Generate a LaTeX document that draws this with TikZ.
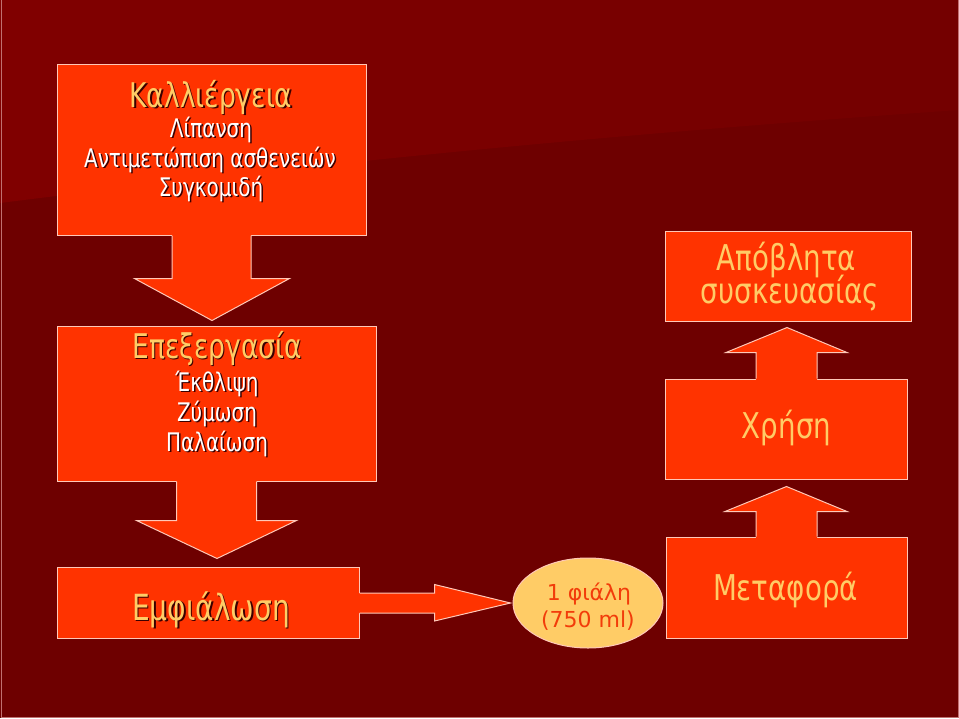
\documentclass[tikz,border=0pt]{standalone}
\usepackage{fontspec}
\setmainfont{DejaVu Sans}[FakeStretch=0.78]
\newfontfamily\ovalfont{DejaVu Sans}
\usetikzlibrary{calc,shapes.geometric}
\definecolor{bgdark}{HTML}{6E0000}
\definecolor{bglight}{HTML}{800000}
\definecolor{bgmid}{HTML}{740000}
\definecolor{boxfill}{HTML}{FF3300}
\definecolor{edgec}{HTML}{FFC8B8}
\definecolor{titlec}{HTML}{FFCC66}
\definecolor{shadowc}{HTML}{3A0000}
\definecolor{ovaltext}{HTML}{F23C0A}
\definecolor{framec}{HTML}{C07070}
\tikzset{
  box/.style={draw=edgec, line width=1pt, fill=boxfill, inner sep=0pt},
  oval/.style={ellipse, draw=edgec, line width=1pt, fill=titlec, inner sep=0pt},
  arrowfill/.style={fill=boxfill},
  arrowedge/.style={draw=edgec, line width=1pt, line join=miter},
  bigtxt/.style={font=\fontsize{34}{40}\selectfont, text=titlec, inner sep=0pt},
  bottletxt/.style={font=\fontsize{36}{42}\selectfont, text=titlec, inner sep=0pt},
  righttxt/.style={font=\fontsize{35.5}{42}\selectfont, text=titlec, inner sep=0pt},
  subtxt/.style={font=\fontsize{25.6}{30}\selectfont, text=white, inner sep=0pt},
  ovaltxt/.style={font=\ovalfont\fontsize{22}{26}\selectfont, text=ovaltext, inner sep=0pt}
}
\newcommand\shtext[4]{%
  \node[#3, text=shadowc, anchor=base] (#1-sh) at ($#2+(1.5,1.5)$) {#4};
  \node[#3, anchor=base] (#1) at #2 {#4};}
\begin{document}
\begin{tikzpicture}[x=1pt,y=-1pt]
\useasboundingbox (0,0) rectangle (959,718);
% background
\fill[bgdark] (0,0) rectangle (959,718);
\shade[left color=bglight, right color=bgmid] (0,0) -- (959,0) -- (959,110)
  .. controls (600,135) and (300,165) .. (0,203) -- cycle;
\draw[framec, line width=1pt] (1,0) -- (1,717) -- (958,717) -- (958,0);

% boxes
\node[box, minimum width=309pt, minimum height=171pt] (b1) at (211.5,149.5) {};
\node[box, minimum width=319pt, minimum height=155pt] (b2) at (216.5,403.5) {};
\node[box, minimum width=302pt, minimum height=71pt] (b3) at (208,602.5) {};
\node[oval, minimum width=150pt, minimum height=90pt] (ov) at (588,603) {};
\node[box, minimum width=241pt, minimum height=101pt] (b6) at (786.5,587.5) {};
\node[box, minimum width=242pt, minimum height=100pt] (b5) at (786,429) {};
\node[box, minimum width=246pt, minimum height=90pt] (b4) at (788,276) {};

% block arrow b1 -> b2
\fill[arrowfill] ($(b1.south)+(-39.5,-1.5)$) -- ($(b1.south)+(-39.5,43)$) -- ($(b1.south)+(-77,43)$)
  -- ($(b1.south)+(0.5,85)$) -- ($(b1.south)+(78,43)$) -- ($(b1.south)+(39.5,43)$) -- ($(b1.south)+(39.5,-1.5)$) -- cycle;
\draw[arrowedge] ($(b1.south)+(-39.5,0)$) -- ($(b1.south)+(-39.5,43)$) -- ($(b1.south)+(-77,43)$)
  -- ($(b1.south)+(0.5,85)$) -- ($(b1.south)+(78,43)$) -- ($(b1.south)+(39.5,43)$) -- ($(b1.south)+(39.5,0)$);
% block arrow b2 -> b3
\fill[arrowfill] ($(b2.south)+(-40,-1.5)$) -- ($(b2.south)+(-40,39)$) -- ($(b2.south)+(-80,39)$)
  -- ($(b2.south)+(0.5,77)$) -- ($(b2.south)+(80,39)$) -- ($(b2.south)+(40,39)$) -- ($(b2.south)+(40,-1.5)$) -- cycle;
\draw[arrowedge] ($(b2.south)+(-40,0)$) -- ($(b2.south)+(-40,39)$) -- ($(b2.south)+(-80,39)$)
  -- ($(b2.south)+(0.5,77)$) -- ($(b2.south)+(80,39)$) -- ($(b2.south)+(40,39)$) -- ($(b2.south)+(40,0)$);
% block arrow b3 -> oval
\fill[arrowfill] ($(b3.east)+(-1.5,-9.5)$) -- ($(b3.east)+(75,-9.5)$) -- ($(b3.east)+(75,-18)$)
  -- ($(ov.west)+(-2,0)$) -- ($(b3.east)+(75,18.5)$) -- ($(b3.east)+(75,10.5)$) -- ($(b3.east)+(-1.5,10.5)$) -- cycle;
\draw[arrowedge] ($(b3.east)+(0,-9.5)$) -- ($(b3.east)+(75,-9.5)$) -- ($(b3.east)+(75,-18)$)
  -- ($(ov.west)+(-2,0)$) -- ($(b3.east)+(75,18.5)$) -- ($(b3.east)+(75,10.5)$) -- ($(b3.east)+(0,10.5)$);
% block arrow b6 -> b5
\fill[arrowfill] ($(b6.north)+(-30.5,1.5)$) -- ($(b6.north)+(-30.5,-25)$) -- ($(b6.north)+(-61.5,-25)$)
  -- ($(b6.north)+(0,-50)$) -- ($(b6.north)+(60.5,-25)$) -- ($(b6.north)+(30.5,-25)$) -- ($(b6.north)+(30.5,1.5)$) -- cycle;
\draw[arrowedge] ($(b6.north)+(-30.5,0)$) -- ($(b6.north)+(-30.5,-25)$) -- ($(b6.north)+(-61.5,-25)$)
  -- ($(b6.north)+(0,-50)$) -- ($(b6.north)+(60.5,-25)$) -- ($(b6.north)+(30.5,-25)$) -- ($(b6.north)+(30.5,0)$);
% block arrow b5 -> b4
\fill[arrowfill] ($(b5.north)+(-30,1.5)$) -- ($(b5.north)+(-30,-26)$) -- ($(b5.north)+(-60,-26)$)
  -- ($(b5.north)+(1,-51)$) -- ($(b5.north)+(61,-26)$) -- ($(b5.north)+(31,-26)$) -- ($(b5.north)+(31,1.5)$) -- cycle;
\draw[arrowedge] ($(b5.north)+(-30,0)$) -- ($(b5.north)+(-30,-26)$) -- ($(b5.north)+(-60,-26)$)
  -- ($(b5.north)+(1,-51)$) -- ($(b5.north)+(61,-26)$) -- ($(b5.north)+(31,-26)$) -- ($(b5.north)+(31,0)$);

% texts box 1
\shtext{t11}{(211,107)}{bigtxt}{Καλλιέργεια}
\shtext{t12}{(211,137)}{subtxt}{Λίπανση}
\shtext{t13}{(210,167)}{subtxt}{Αντιμετώπιση ασθενειών}
\shtext{t14}{(211,196)}{subtxt}{Συγκομιδή}
% texts box 2
\shtext{t21}{(217,358)}{bigtxt}{Επεξεργασία}
\shtext{t22}{(217,391)}{subtxt}{Έκθλιψη}
\shtext{t23}{(217,421)}{subtxt}{Ζύμωση}
\shtext{t24}{(217,451)}{subtxt}{Παλαίωση}
% text box 3
\shtext{t31}{(211,620)}{bottletxt}{Εμφιάλωση}
% oval texts
\node[ovaltxt, anchor=base] (o1) at (589,600) {1 φιάλη};
\node[ovaltxt, anchor=base] (o2) at (588,627) {(750 ml)};
% right column texts
\node[righttxt, anchor=base] (t41) at (786.5,270) {Απόβλητα};
\node[righttxt, anchor=base] (t42) at (790,303) {συσκευασίας};
\node[righttxt, anchor=base] (t51) at (786.5,438) {Χρήση};
\node[righttxt, anchor=base] (t61) at (785.5,600) {Μεταφορά};
\end{tikzpicture}
\end{document}
